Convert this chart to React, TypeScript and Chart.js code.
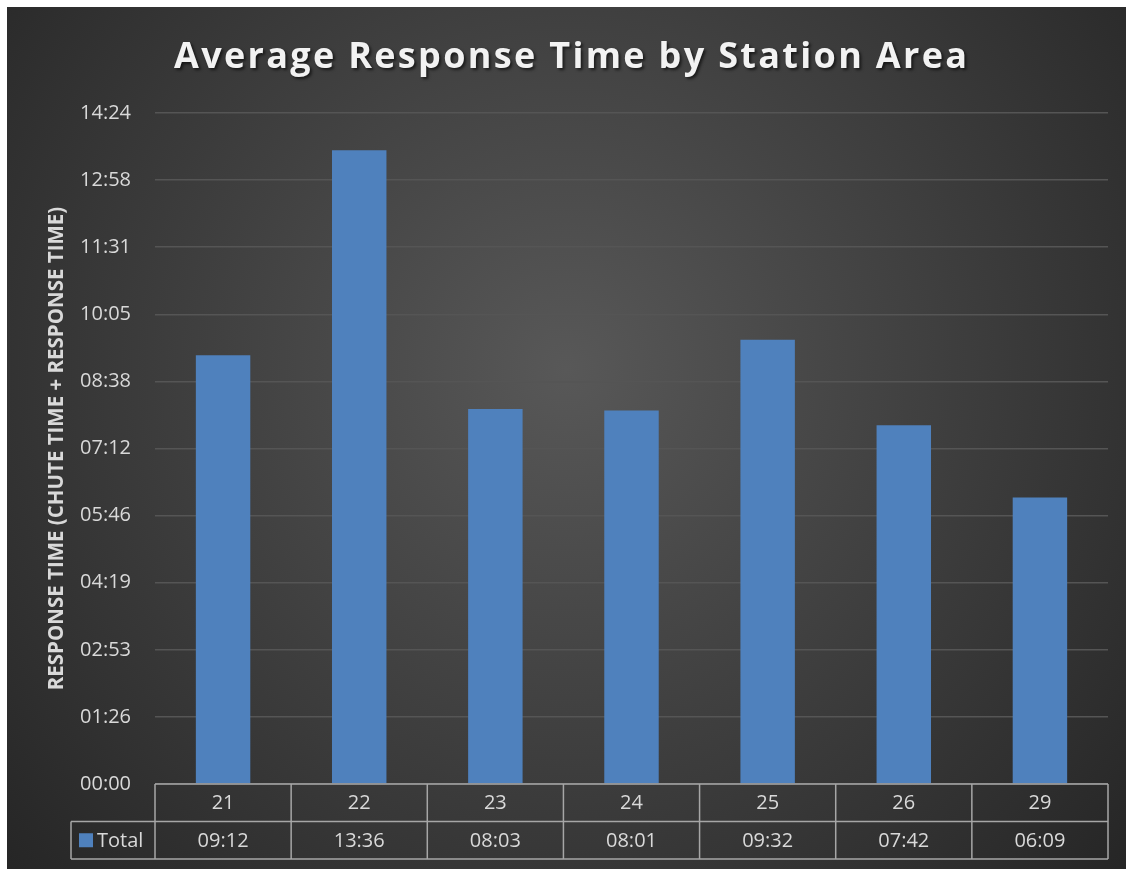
import React, { useEffect, useRef } from "react";
import { Chart, registerables } from "chart.js";

Chart.register(...registerables);

const stations = ["21", "22", "23", "24", "25", "26", "29"];
const totalLabels = ["09:12", "13:36", "08:03", "08:01", "09:32", "07:42", "06:09"];
const totalSeconds = [552, 816, 483, 481, 572, 462, 369];
const yTickLabels = ["00:00", "01:26", "02:53", "04:19", "05:46", "07:12", "08:38", "10:05", "11:31", "12:58", "14:24"];
const yMax = 864;
const yStep = 86.4;
const seriesName = "Total";
const chartTitle = "Average Response Time by Station Area";
const yAxisTitle = "RESPONSE TIME (CHUTE TIME + RESPONSE TIME)";

const FONT = "'Open Sans', 'DejaVu Sans', sans-serif";
const BAR = "#4F81BD";
const TEXT = "#D9D9D9";
const TABLE_LINE = "#A6A6A6";

const backgroundPlugin = {
  id: "bgGradient",
  beforeDraw(chart: any) {
    const { ctx, width, height } = chart;
    ctx.save();
    const cx = width * 0.5;
    const cy = height * 0.42;
    const g = ctx.createRadialGradient(cx, cy, 0, cx, cy, 760);
    g.addColorStop(0, "#585858");
    g.addColorStop(1, "#252525");
    ctx.fillStyle = g;
    ctx.fillRect(0, 0, width, height);
    ctx.restore();
  },
};

const titlePlugin = {
  id: "customTitle",
  afterDraw(chart: any) {
    const { ctx, width } = chart;
    ctx.save();
    ctx.font = `bold 36px ${FONT}`;
    const targetWidth = 793;
    (ctx as any).letterSpacing = "0px";
    const w = ctx.measureText(chartTitle).width;
    const spacing = Math.max(0, (targetWidth - w) / (chartTitle.length - 1));
    (ctx as any).letterSpacing = `${spacing}px`;
    ctx.textAlign = "center";
    ctx.textBaseline = "alphabetic";
    ctx.shadowColor = "rgba(0,0,0,0.6)";
    ctx.shadowOffsetX = 2;
    ctx.shadowOffsetY = 2;
    ctx.shadowBlur = 3;
    ctx.fillStyle = "#F2F2F2";
    ctx.fillText(chartTitle, width / 2 + 4 + spacing / 2, 61);
    ctx.restore();
  },
};

const tablePlugin = {
  id: "dataTable",
  afterDraw(chart: any) {
    const { ctx, chartArea } = chart;
    const x = chart.scales.x;
    const n = stations.length;
    const catW = x.getPixelForValue(1) - x.getPixelForValue(0);
    const left = x.getPixelForValue(0) - catW / 2;
    const right = left + catW * n;
    const top = chartArea.bottom;
    const rowH = 37.5;
    const legendLeft = left - 84;

    ctx.save();
    ctx.strokeStyle = TABLE_LINE;
    ctx.lineWidth = 1.5;
    ctx.beginPath();
    ctx.moveTo(left, top);
    ctx.lineTo(right, top);
    ctx.moveTo(legendLeft, top + rowH);
    ctx.lineTo(right, top + rowH);
    ctx.moveTo(legendLeft, top + 2 * rowH);
    ctx.lineTo(right, top + 2 * rowH);
    for (let i = 0; i <= n; i++) {
      const px = left + i * catW;
      ctx.moveTo(px, top);
      ctx.lineTo(px, top + 2 * rowH);
    }
    ctx.moveTo(legendLeft, top + rowH);
    ctx.lineTo(legendLeft, top + 2 * rowH);
    ctx.stroke();

    ctx.fillStyle = TEXT;
    ctx.font = `20px ${FONT}`;
    ctx.textAlign = "center";
    ctx.textBaseline = "middle";
    for (let i = 0; i < n; i++) {
      const cx = x.getPixelForValue(i);
      ctx.fillText(stations[i], cx, top + rowH / 2 + 1);
      ctx.fillText(totalLabels[i], cx, top + rowH * 1.5 + 1);
    }
    ctx.fillStyle = BAR;
    ctx.fillRect(legendLeft + 8, top + rowH * 1.5 - 7, 14, 14);
    ctx.fillStyle = TEXT;
    ctx.textAlign = "left";
    ctx.fillText(seriesName, legendLeft + 26, top + rowH * 1.5 + 1);
    ctx.restore();
  },
};

export default function App() {
  const canvasRef = useRef<HTMLCanvasElement | null>(null);

  useEffect(() => {
    const canvas = canvasRef.current;
    if (!canvas) return;
    const chart = new Chart(canvas, {
      type: "bar",
      data: {
        labels: stations,
        datasets: [
          {
            label: seriesName,
            data: totalSeconds,
            backgroundColor: BAR,
            borderWidth: 0,
            categoryPercentage: 1,
            barPercentage: 0.4,
          },
        ],
      },
      options: {
        animation: false,
        responsive: true,
        maintainAspectRatio: false,
        devicePixelRatio: 1,
        layout: { padding: { top: 106, right: 18, bottom: 85, left: 0 } },
        plugins: {
          legend: { display: false },
          tooltip: { enabled: false },
          title: { display: false },
        },
        scales: {
          x: {
            display: true,
            grid: { display: false, drawTicks: false },
            border: { display: false },
            ticks: { display: false },
            afterFit(scale: any) {
              scale.height = 0;
            },
          },
          y: {
            min: 0,
            max: yMax,
            afterBuildTicks(scale: any) {
              scale.ticks = yTickLabels.map((_, i) => ({ value: i * yStep }));
            },
            afterFit(scale: any) {
              scale.width = 148;
            },
            grid: { color: "#555555", lineWidth: 1.5, drawTicks: false },
            border: { display: false },
            ticks: {
              color: TEXT,
              font: { family: FONT, size: 20 },
              padding: 24,
              callback: (_v: any, i: number) => yTickLabels[i],
            },
            title: {
              display: true,
              text: yAxisTitle,
              color: TEXT,
              font: { family: FONT, size: 20.5, weight: "bold" },
              padding: { top: 38, bottom: 0 },
            },
          },
        },
      },
      plugins: [backgroundPlugin, titlePlugin, tablePlugin],
    });
    return () => chart.destroy();
  }, []);

  return (
    <div style={{ position: "fixed", left: 7, top: 7, width: 1119, height: 862 }}>
      <canvas ref={canvasRef} />
    </div>
  );
}
